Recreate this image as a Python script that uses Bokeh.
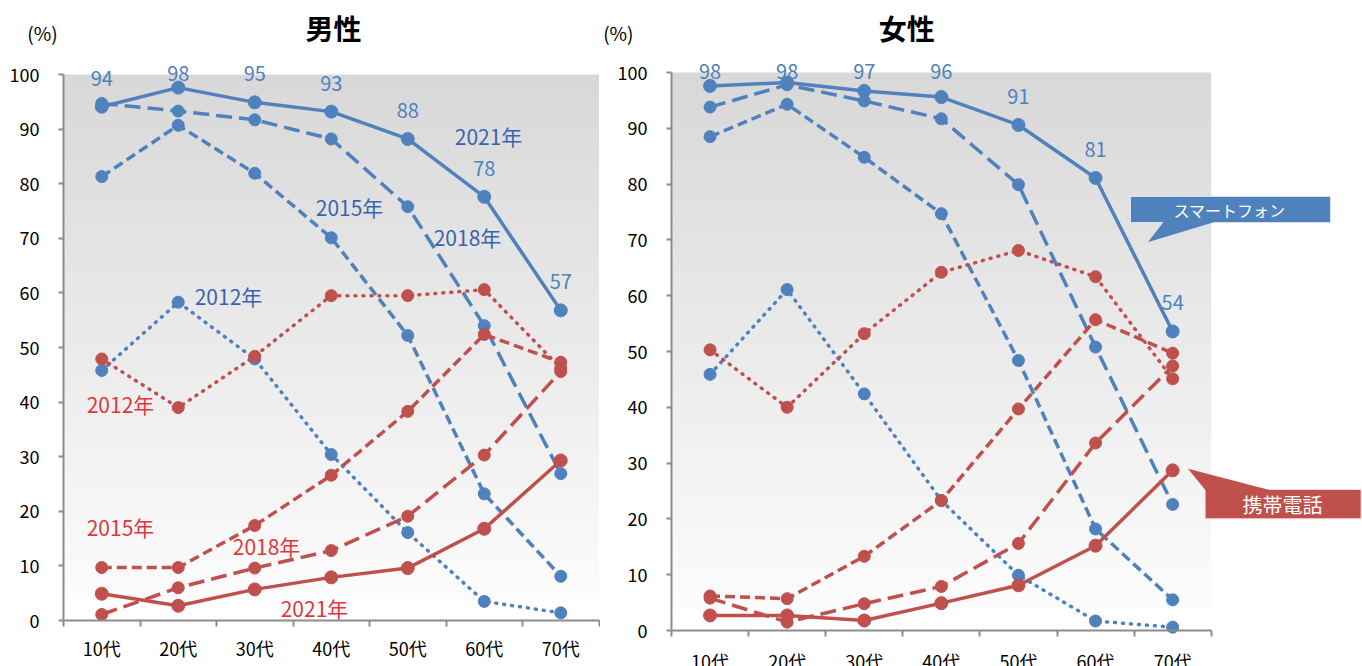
import numpy as np
from bokeh.plotting import figure
from bokeh.layouts import row
from bokeh.models import Range1d, FixedTicker
from bokeh.core.properties import value
from bokeh.embed import file_html
from bokeh.resources import INLINE

FONT = "Noto Sans CJK JP"

# Age groups and value axis ticks
ages = ["10代", "20代", "30代", "40代", "50代", "60代", "70代"]
y_ticks = [0, 10, 20, 30, 40, 50, 60, 70, 80, 90, 100]
years = ["2012年", "2015年", "2018年", "2021年"]

# 男性 — スマートフォン利用率 (%)
male_sp_2012 = [45.8, 58.3, 47.9, 30.4, 16.1, 3.5, 1.4]
male_sp_2015 = [81.3, 90.7, 81.9, 70.1, 52.2, 23.2, 8.1]
male_sp_2018 = [94.7, 93.3, 91.7, 88.2, 75.8, 54.0, 26.9]
male_sp_2021 = [94.1, 97.6, 94.9, 93.2, 88.2, 77.6, 56.8]

# 男性 — 携帯電話利用率 (%)
male_mp_2012 = [47.9, 39.0, 48.4, 59.5, 59.5, 60.6, 46.2]
male_mp_2015 = [9.7, 9.7, 17.4, 26.6, 38.3, 52.4, 47.3]
male_mp_2018 = [1.1, 6.0, 9.6, 12.8, 19.1, 30.3, 45.6]
male_mp_2021 = [4.9, 2.7, 5.7, 7.9, 9.6, 16.8, 29.3]

# 女性 — スマートフォン利用率 (%)
female_sp_2012 = [45.9, 61.1, 42.4, 23.3, 9.9, 1.7, 0.6]
female_sp_2015 = [88.5, 94.3, 84.8, 74.7, 48.4, 18.2, 5.5]
female_sp_2018 = [93.8, 97.8, 94.9, 91.7, 79.9, 50.8, 22.6]
female_sp_2021 = [97.6, 98.2, 96.7, 95.6, 90.6, 81.1, 53.6]

# 女性 — 携帯電話利用率 (%)
female_mp_2012 = [50.3, 40.0, 53.2, 64.2, 68.1, 63.4, 45.1]
female_mp_2015 = [6.2, 5.7, 13.3, 23.3, 39.7, 55.7, 49.7]
female_mp_2018 = [5.8, 1.5, 4.8, 7.9, 15.6, 33.6, 47.4]
female_mp_2021 = [2.7, 2.7, 1.8, 4.9, 8.1, 15.2, 28.7]

BLUE = "#4F81BD"
RED = "#C0504D"
BLUE_TEXT = "#3A63AF"
RED_TEXT = "#E0363C"
AXIS = "#8C8C8C"

DASHES = {"2012年": "1 7", "2015年": "10 5", "2018年": "16 7", "2021年": "solid"}

x_pos = [i + 0.5 for i in range(len(ages))]


def gradient_image():
    """Vertical grey-to-white fill for the plotting area."""
    rows = 400
    img = np.empty((rows, 1), dtype=np.uint32)
    view = img.view(dtype=np.uint8).reshape((rows, 1, 4))
    for r in range(rows):
        yv = 100.0 * (r + 0.5) / rows
        if yv < 4.0:
            c = 255
        else:
            c = int(round(252 - (yv - 4.0) / 96.0 * (252 - 216)))
        view[r, 0, :] = (c, c, c, 255)
    return img


def make_panel(width, frame_left, axis_y, xunit, yunit, sp, mp, title, title_xy,
               pct_xy, label_standoff):
    height = 666
    x_range = Range1d(-frame_left / xunit, (width - frame_left) / xunit)
    y_range = Range1d(-(height - axis_y) / yunit, axis_y / yunit)
    p = figure(width=width, height=height, x_range=x_range, y_range=y_range,
               output_backend="svg", toolbar_location=None, min_border=0,
               outline_line_color=None, background_fill_color="white",
               border_fill_color="white")
    p.grid.visible = False

    # background fill of the plotting area
    p.image_rgba(image=[gradient_image()], x=0, y=0, dw=len(ages), dh=100)

    # axes pinned to the data origin
    xa = p.xaxis[0]
    xa.fixed_location = 0
    xa.bounds = (0, len(ages))
    xa.ticker = FixedTicker(ticks=x_pos, minor_ticks=list(range(len(ages) + 1)))
    xa.major_label_overrides = {x: a for x, a in zip(x_pos, ages)}
    xa.major_tick_out = 0
    xa.major_tick_in = 0
    xa.minor_tick_out = 6
    xa.minor_tick_in = 0
    xa.minor_tick_line_color = AXIS
    xa.minor_tick_line_width = 2
    xa.axis_line_color = AXIS
    xa.axis_line_width = 2
    xa.major_label_standoff = label_standoff
    xa.major_label_text_font = FONT
    xa.major_label_text_font_size = "18px"
    xa.major_label_text_color = "black"

    ya = p.yaxis[0]
    ya.fixed_location = 0
    ya.bounds = (0, 100)
    ya.ticker = FixedTicker(ticks=y_ticks)
    ya.major_tick_out = 5
    ya.major_tick_in = 0
    ya.minor_tick_out = 0
    ya.minor_tick_in = 0
    ya.major_tick_line_color = AXIS
    ya.major_tick_line_width = 2
    ya.axis_line_color = AXIS
    ya.axis_line_width = 2
    ya.major_label_standoff = 19
    ya.major_label_text_font = FONT
    ya.major_label_text_font_size = "18px"
    ya.major_label_text_color = "black"

    # series lines and markers
    for data, color in ((sp, BLUE), (mp, RED)):
        for yr in years:
            vals = data[yr]
            dash = DASHES[yr]
            p.line(x_pos, vals, line_color=color, line_width=3.5, line_dash=dash,
                   line_cap="round" if yr == "2012年" else "butt",
                   line_join="round")
            p.scatter(x_pos, vals, size=13 if yr == "2021年" else 12,
                      fill_color=color, line_color=color, line_width=1)

    # value labels for the latest smartphone series
    latest = sp["2021年"]
    offset = 28.5 / yunit
    p.text(x=x_pos, y=[min(v + offset, 100.2) for v in latest],
           text=[f"{v:.0f}" for v in latest],
           text_font=value(FONT), text_font_size="20px", text_color=BLUE,
           text_align="center", text_baseline="middle")

    # panel title and unit
    p.text(x=[title_xy[0]], y=[title_xy[1]], text=[title], text_font=value(FONT),
           text_font_size="28px", text_font_style="bold", text_color="black",
           text_align="center", text_baseline="middle")
    p.text(x=[pct_xy[0]], y=[pct_xy[1]], text=["(%)"], text_font=value(FONT),
           text_font_size="19px", text_color="black",
           text_align="center", text_baseline="middle")
    return p


male_sp = {"2012年": male_sp_2012, "2015年": male_sp_2015,
           "2018年": male_sp_2018, "2021年": male_sp_2021}
male_mp = {"2012年": male_mp_2012, "2015年": male_mp_2015,
           "2018年": male_mp_2018, "2021年": male_mp_2021}
female_sp = {"2012年": female_sp_2012, "2015年": female_sp_2015,
             "2018年": female_sp_2018, "2021年": female_sp_2021}
female_mp = {"2012年": female_mp_2012, "2015年": female_mp_2015,
             "2018年": female_mp_2018, "2021年": female_mp_2021}

left = make_panel(600, 63, 620, 76.5, 5.46, male_sp, male_mp, "男性",
                  (3.53, 108.6), (-0.275, 107.7), 8)
right = make_panel(762, 71, 630, 77.1, 5.58, female_sp, female_mp, "女性",
                   (3.05, 108.0), (-0.69, 107.2), 11)

# year labels next to the male series
blue_year_labels = [("2021年", 5.556, 88.7), ("2015年", 3.739, 75.8),
                    ("2018年", 5.281, 70.2), ("2012年", 2.157, 59.5)]
red_year_labels = [("2012年", 0.745, 39.6), ("2015年", 0.745, 17.2),
                   ("2018年", 2.654, 13.6), ("2021年", 3.281, 2.3)]
for labels, color in ((blue_year_labels, BLUE_TEXT), (red_year_labels, RED_TEXT)):
    left.text(x=[l[1] for l in labels], y=[l[2] for l in labels],
              text=[l[0] for l in labels], text_font=value(FONT),
              text_font_size="21px", text_color=color,
              text_align="center", text_baseline="middle")

# callout legends on the female panel
right.quad(left=[5.953], right=[8.547], bottom=[73.1], top=[77.8],
           fill_color=BLUE, line_color="#DCE6F2", line_width=1)
right.patch([6.178, 6.381, 7.043], [69.6, 73.2, 73.2], fill_color=BLUE,
            line_color=None)
right.text(x=[7.237], y=[75.4], text=["スマートフォン"], text_font=value(FONT),
           text_font_size="16px", text_color="white",
           text_align="center", text_baseline="middle")

right.quad(left=[6.921], right=[8.944], bottom=[20.02], top=[25.27],
           fill_color=RED, line_color="#F2DCDB", line_width=1)
right.patch([6.700, 6.926, 7.769], [28.98, 25.15, 25.15], fill_color=RED,
            line_color=None)
right.text(x=[7.925], y=[22.6], text=["携帯電話"], text_font=value(FONT),
           text_font_size="20px", text_color="white",
           text_align="center", text_baseline="middle")

layout = row(left, right)
open("out.html", "w").write(file_html(layout, INLINE))
